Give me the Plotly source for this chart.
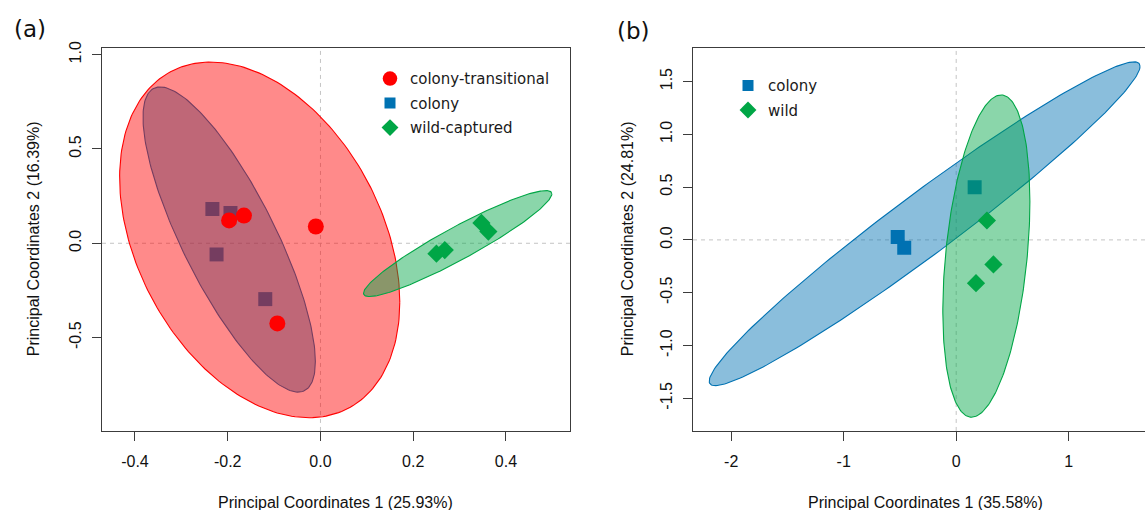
import numpy as np
import plotly.graph_objects as go

W, H = 1145, 510

# ---------------- data: panel (a) ----------------
a_ct_x = [-0.197, -0.165, -0.010, -0.093]
a_ct_y = [0.121, 0.147, 0.089, -0.425]
a_col_x = [-0.233, -0.194, -0.224, -0.119]
a_col_y = [0.182, 0.160, -0.059, -0.296]
a_wild_x = [0.250, 0.268, 0.347, 0.362]
a_wild_y = [-0.055, -0.036, 0.108, 0.062]

# ellipse parameters: centre x, centre y, half x-extent, half y-extent, correlation
a_ct_ell = [-0.131, 0.018, 0.302, 0.943, -0.35]
a_col_ell = [-0.1968, 0.020, 0.1858, 0.809, -0.80]
a_wild_ell = [0.2958, -0.0015, 0.203, 0.281, 0.937]

# ---------------- data: panel (b) ----------------
b_col_x = [-0.520, -0.462, 0.164]
b_col_y = [0.028, -0.075, 0.498]
b_wild_x = [0.273, 0.331, 0.176]
b_wild_y = [0.184, -0.232, -0.410]

b_col_ell = [-0.281, 0.153, 1.915, 1.533, 0.972]
b_wild_ell = [0.268, -0.153, 0.387, 1.526, 0.34]

# ticks / labels
a_xticks = [-0.4, -0.2, 0.0, 0.2, 0.4]
a_xlabels = ["-0.4", "-0.2", "0.0", "0.2", "0.4"]
a_yticks = [-0.5, 0.0, 0.5, 1.0]
a_ylabels = ["-0.5", "0.0", "0.5", "1.0"]
b_xticks = [-2, -1, 0, 1]
b_xlabels = ["-2", "-1", "0", "1"]
b_yticks = [-1.5, -1.0, -0.5, 0.0, 0.5, 1.0, 1.5]
b_ylabels = ["-1.5", "-1.0", "-0.5", "0.0", "0.5", "1.0", "1.5"]

a_groups = ["colony-transitional", "colony", "wild-captured"]
b_groups = ["colony", "wild"]

a_xtitle = "Principal Coordinates 1 (25.93%)"
a_ytitle = "Principal Coordinates 2 (16.39%)"
b_xtitle = "Principal Coordinates 1 (35.58%)"
b_ytitle = "Principal Coordinates 2 (24.81%)"

RED = "rgb(255,0,0)"
BLUE = "rgb(0,114,178)"
GREEN = "rgb(0,166,70)"
RED_F = "rgba(255,0,0,0.46)"
BLUE_F = "rgba(0,114,178,0.46)"
GREEN_F = "rgba(0,166,70,0.46)"


def ellipse(p, n=240):
    cx, cy, hx, hy, r = p
    t = np.linspace(0, 2 * np.pi, n)
    x = cx + hx * np.cos(t)
    y = cy + hy * (r * np.cos(t) + np.sqrt(1 - r * r) * np.sin(t))
    return x, y


fig = go.Figure()


def add_pts(x, y, sym, size, color, xa, ya):
    fig.add_trace(go.Scatter(
        x=x, y=y, mode="markers", xaxis=xa, yaxis=ya, showlegend=False,
        marker=dict(symbol=sym, size=size, color=color, line=dict(width=0)),
        hoverinfo="skip"))


def add_ell(p, line, fill, xa, ya):
    ex, ey = ellipse(p)
    fig.add_trace(go.Scatter(
        x=ex, y=ey, mode="lines", fill="toself", fillcolor=fill,
        line=dict(color=line, width=1.1), xaxis=xa, yaxis=ya,
        showlegend=False, hoverinfo="skip"))


def add_key(name, sym, size, color, xa, ya, legend, rank):
    fig.add_trace(go.Scatter(
        x=[None], y=[None], mode="markers", name=name, xaxis=xa, yaxis=ya,
        marker=dict(symbol=sym, size=size, color=color, line=dict(width=0)),
        legend=legend, legendrank=rank, legendgroup=name + legend,
        hoverinfo="skip"))


# panel (a): drawing order gives the blended look of the original
add_pts(a_col_x, a_col_y, "square", 14, BLUE, "x", "y")
add_ell(a_col_ell, BLUE, BLUE_F, "x", "y")
add_pts(a_ct_x, a_ct_y, "circle", 16, RED, "x", "y")
add_ell(a_ct_ell, RED, RED_F, "x", "y")
add_pts(a_wild_x, a_wild_y, "diamond", 14, GREEN, "x", "y")
add_ell(a_wild_ell, GREEN, GREEN_F, "x", "y")

# panel (b)
add_pts(b_col_x, b_col_y, "square", 14, BLUE, "x2", "y2")
add_ell(b_col_ell, BLUE, BLUE_F, "x2", "y2")
add_pts(b_wild_x, b_wild_y, "diamond", 14, GREEN, "x2", "y2")
add_ell(b_wild_ell, GREEN, GREEN_F, "x2", "y2")

# legend keys
add_key(a_groups[0], "circle", 14.5, RED, "x", "y", "legend", 1)
add_key(a_groups[1], "square", 11, BLUE, "x", "y", "legend", 2)
add_key(a_groups[2], "diamond", 13, GREEN, "x", "y", "legend", 3)
add_key(b_groups[0], "square", 11, BLUE, "x2", "y2", "legend2", 1)
add_key(b_groups[1], "diamond", 13, GREEN, "x2", "y2", "legend2", 2)

TOP, BOT = 42, 430
ydom = [1 - BOT / H, 1 - TOP / H]
AXFONT = dict(family="Liberation Sans, Arial, sans-serif", size=16, color="#111")
LINEC = "#3c3c3c"

common = dict(showgrid=False, zeroline=False, showline=True, linecolor=LINEC,
              linewidth=1.3, ticks="outside", ticklen=9, tickwidth=1.2,
              tickcolor=LINEC, tickfont=AXFONT, fixedrange=True)

LFONT = dict(family="DejaVu Sans, Verdana, sans-serif", size=15, color="#1a1a1a")

fig.update_layout(
    width=W, height=H, margin=dict(l=0, r=0, t=0, b=0),
    paper_bgcolor="white", plot_bgcolor="white",
    xaxis=dict(domain=[102 / W, 570 / W], range=[-0.471, 0.538],
               tickvals=a_xticks, ticktext=a_xlabels, mirror=True,
               ticklabelstandoff=7, anchor="y", **common),
    yaxis=dict(domain=ydom, range=[-0.995, 1.038], tickvals=a_yticks,
               ticktext=a_ylabels, tickangle=-90, mirror=True,
               ticklabelstandoff=4, anchor="x", **common),
    xaxis2=dict(domain=[693 / W, 1.0], range=[-2.3396, 1.6782],
                tickvals=b_xticks, ticktext=b_xlabels, mirror=True,
                ticklabelstandoff=7, anchor="y2", **common),
    yaxis2=dict(domain=ydom, range=[-1.809, 1.822], tickvals=b_yticks,
                ticktext=b_ylabels, tickangle=-90, mirror=False,
                ticklabelstandoff=4, anchor="x2", **common),
    legend=dict(x=370 / W, y=1 - 57 / H, xanchor="left", yanchor="top",
                bgcolor="rgba(0,0,0,0)", traceorder="grouped", tracegroupgap=2,
                font=LFONT),
    legend2=dict(x=728 / W, y=1 - 64 / H, xanchor="left", yanchor="top",
                 bgcolor="rgba(0,0,0,0)", traceorder="grouped", tracegroupgap=2,
                 font=LFONT),
    showlegend=True,
)

# dashed zero reference lines
DASH = dict(color="#c4c4c4", width=1, dash="4px,4px")
for xr, yr in (("x", "y"), ("x2", "y2")):
    fig.add_shape(type="line", xref=xr, yref=yr + " domain", x0=0, x1=0, y0=0, y1=1,
                  line=DASH, layer="below")
    fig.add_shape(type="line", xref=xr + " domain", yref=yr, x0=0, x1=1, y0=0, y1=0,
                  line=DASH, layer="below")

TFONT = dict(family="Liberation Sans, Arial, sans-serif", size=16, color="#111")


def ann(text, px, py, angle=0, font=TFONT):
    fig.add_annotation(text=text, x=px / W, y=1 - py / H, xref="paper", yref="paper",
                       xanchor="center", yanchor="middle", showarrow=False,
                       textangle=angle, font=font)


ann(a_xtitle, 336, 502)
ann(b_xtitle, 925.6, 502)
ann(a_ytitle, 33, 236, -90)
ann(b_ytitle, 627, 236, -90)
PFONT = dict(family="DejaVu Sans, Verdana, sans-serif", size=23, color="#111")
ann("(a)", 29.5, 23, 0, PFONT)
ann("(b)", 633, 25, 0, PFONT)

fig.write_html(
    "out.html",
    config={"displayModeBar": False},
    post_script="document.body.style.margin='0';document.body.style.padding='0';"
                "document.body.style.overflow='hidden';",
)
